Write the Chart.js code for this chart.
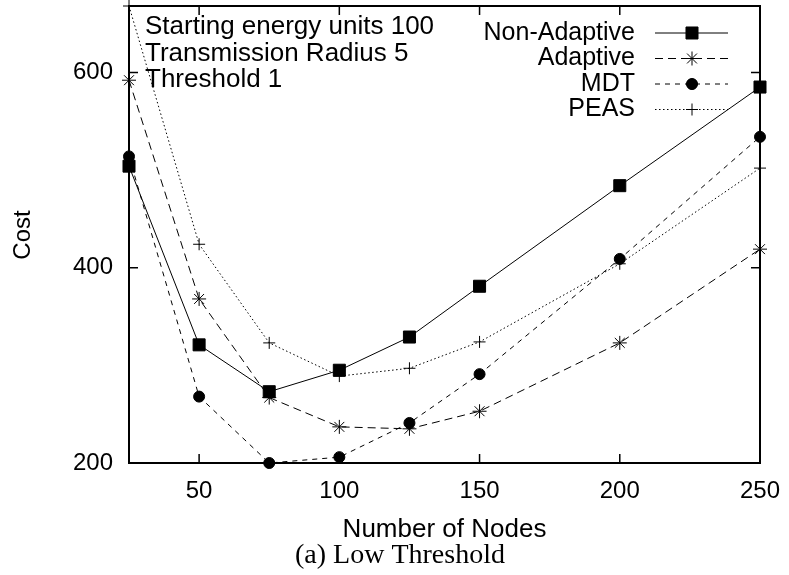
<!DOCTYPE html>
<html lang="en">
<head>
    <meta charset="UTF-8">
    <title>Low Threshold</title>
    <script src="https://cdn.jsdelivr.net/npm/chart.js"></script>
    <style>
        body { margin: 0; background: #fff; }
        #wrap { width: 789px; height: 575px; }
    </style>
</head>
<body>
    <div id="wrap"><canvas id="c" width="789" height="575"></canvas></div>
    <script>
        const nodes = [25, 50, 75, 100, 125, 150, 200, 250];
        const nonAdaptive = [504, 321, 273, 295, 329, 381, 484, 585];
        const adaptive = [592, 368, 267, 237, 235, 253, 323, 419];
        const mdt = [514, 268, 200, 206, 241, 291, 409, 534];
        const peas = [668, 424, 323, 289, 297, 324, 404, 502];
        const xTicks = [50, 100, 150, 200, 250];
        const yTicks = [200, 400, 600];
        const notes = ['Starting energy units 100', 'Transmission Radius 5', 'Threshold 1'];

        const font = '"Liberation Sans", Arial, sans-serif';

        function series(label, values, style, radius, dash) {
            return {
                label: label,
                data: nodes.map((x, i) => ({ x: x, y: values[i] })),
                borderColor: '#000',
                backgroundColor: '#000',
                borderWidth: 1,
                borderDash: dash,
                pointStyle: style,
                pointRadius: radius,
                pointBorderWidth: 1,
                pointBorderColor: '#000',
                pointBackgroundColor: '#000',
                tension: 0,
                clip: false,
                fill: false
            };
        }

        const datasets = [
            series('Non-Adaptive', nonAdaptive, 'rect', 8.5, []),
            series('Adaptive', adaptive, 'star', 7, [8, 5]),
            series('MDT', mdt, 'circle', 5.5, [5, 5]),
            series('PEAS', peas, 'cross', 6, [1.5, 2.5])
        ];

        // gnuplot style frame, inward ticks, legend and labels
        const decor = {
            id: 'decor',
            beforeDatasetsDraw(chart) {
                const ctx = chart.ctx;
                const a = chart.chartArea;
                const xs = chart.scales.x, ys = chart.scales.y;
                ctx.save();
                ctx.strokeStyle = '#000';
                ctx.lineWidth = 1.5;
                ctx.beginPath();
                xTicks.forEach(v => {
                    const px = xs.getPixelForValue(v);
                    ctx.moveTo(px, a.bottom); ctx.lineTo(px, a.bottom - 9);
                    ctx.moveTo(px, a.top); ctx.lineTo(px, a.top + 9);
                });
                yTicks.forEach(v => {
                    const py = ys.getPixelForValue(v);
                    ctx.moveTo(a.left, py); ctx.lineTo(a.left + 9, py);
                    ctx.moveTo(a.right, py); ctx.lineTo(a.right - 9, py);
                });
                ctx.stroke();
                ctx.lineWidth = 2;
                ctx.strokeRect(a.left, a.top, a.right - a.left, a.bottom - a.top);

                ctx.fillStyle = '#000';
                ctx.font = '26px ' + font;
                ctx.textBaseline = 'middle';
                ctx.textAlign = 'left';
                notes.forEach((t, i) => ctx.fillText(t, 145, 27 + i * 26.5));

                ctx.textAlign = 'center';
                ctx.fillText('Number of Nodes', (a.left + a.right) / 2, 530);
                ctx.save();
                ctx.translate(23, 235);
                ctx.rotate(-Math.PI / 2);
                ctx.font = '24px ' + font;
                ctx.fillText('Cost', 0, 0);
                ctx.restore();
                ctx.font = '28px "Liberation Serif", "Times New Roman", serif';
                ctx.fillText('(a) Low Threshold', 400, 556);

                // legend
                ctx.font = '25px ' + font;
                ctx.textAlign = 'right';
                chart.data.datasets.forEach((d, i) => {
                    const y = 33 + i * 25.5;
                    ctx.fillStyle = '#000';
                    ctx.fillText(d.label, 635, y);
                    ctx.setLineDash(d.borderDash);
                    ctx.lineWidth = 1;
                    ctx.beginPath();
                    ctx.moveTo(655, y); ctx.lineTo(728, y);
                    ctx.stroke();
                    ctx.setLineDash([]);
                    Chart.helpers.drawPoint(ctx, {
                        pointStyle: d.pointStyle, radius: d.pointRadius,
                        borderWidth: 1, rotation: 0
                    }, 692, y);
                    if (d.pointStyle === 'rect' || d.pointStyle === 'circle') ctx.fill();
                });
                ctx.restore();
            }
        };

        new Chart(document.getElementById('c'), {
            type: 'line',
            data: { datasets: datasets },
            plugins: [decor],
            options: {
                responsive: false,
                animation: false,
                layout: { autoPadding: false, padding: { top: 6, right: 29, left: 0, bottom: 0 } },
                plugins: { legend: { display: false }, tooltip: { enabled: false } },
                scales: {
                    x: {
                        type: 'linear',
                        min: 25,
                        max: 250,
                        afterBuildTicks: s => { s.ticks = xTicks.map(v => ({ value: v })); },
                        afterFit: s => { s.height = 112; s.paddingLeft = 0; s.paddingRight = 0; },
                        grid: { display: false, drawTicks: false },
                        border: { display: false },
                        ticks: { color: '#000', font: { family: font, size: 24 }, padding: 14, maxRotation: 0 }
                    },
                    y: {
                        min: 200,
                        max: 668,
                        afterBuildTicks: s => { s.ticks = yTicks.map(v => ({ value: v })); },
                        afterFit: s => { s.width = 129; s.paddingTop = 0; s.paddingBottom = 0; },
                        grid: { display: false, drawTicks: false },
                        border: { display: false },
                        ticks: { color: '#000', font: { family: font, size: 24 }, padding: 16 }
                    }
                }
            }
        });
    </script>
</body>
</html>
